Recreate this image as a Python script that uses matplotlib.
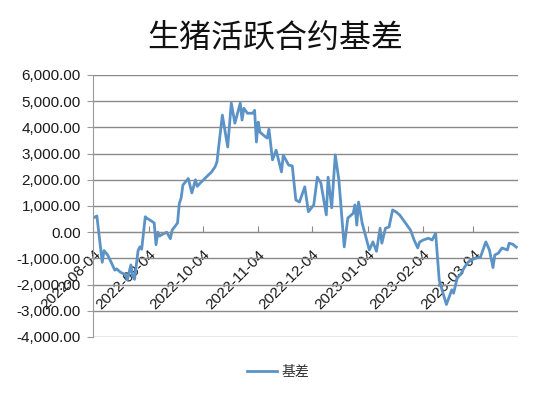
import matplotlib
matplotlib.use("Agg")
import matplotlib.pyplot as plt
import matplotlib.dates as mdates
import pandas as pd

title = "生猪活跃合约基差"
series_name = "基差"

dates = [
    "2022-08-04", "2022-08-06", "2022-08-09", "2022-08-10", "2022-08-12", "2022-08-14",
    "2022-08-16", "2022-08-17", "2022-08-19", "2022-08-22", "2022-08-23", "2022-08-25",
    "2022-08-26", "2022-08-27", "2022-08-29", "2022-08-30", "2022-08-31", "2022-09-02",
    "2022-09-03", "2022-09-06", "2022-09-07", "2022-09-08", "2022-09-09", "2022-09-10",
    "2022-09-11", "2022-09-14", "2022-09-16", "2022-09-17", "2022-09-20", "2022-09-21",
    "2022-09-22", "2022-09-23", "2022-09-26", "2022-09-28", "2022-09-30", "2022-10-01",
    "2022-10-03", "2022-10-06", "2022-10-09", "2022-10-11", "2022-10-12", "2022-10-15",
    "2022-10-18", "2022-10-20", "2022-10-22", "2022-10-25", "2022-10-26", "2022-10-27",
    "2022-10-29", "2022-11-01", "2022-11-02", "2022-11-03", "2022-11-04", "2022-11-05",
    "2022-11-07", "2022-11-09", "2022-11-10", "2022-11-12", "2022-11-14", "2022-11-17",
    "2022-11-18", "2022-11-21", "2022-11-23", "2022-11-25", "2022-11-27", "2022-11-30",
    "2022-12-02", "2022-12-05", "2022-12-07", "2022-12-09", "2022-12-12", "2022-12-13",
    "2022-12-15", "2022-12-17", "2022-12-19", "2022-12-22", "2022-12-24", "2022-12-27",
    "2022-12-28", "2022-12-29", "2022-12-30", "2023-01-01", "2023-01-05", "2023-01-07",
    "2023-01-09", "2023-01-11", "2023-01-12", "2023-01-14", "2023-01-16", "2023-01-18",
    "2023-01-20", "2023-01-22", "2023-01-28", "2023-01-30", "2023-02-01", "2023-02-02",
    "2023-02-04", "2023-02-07", "2023-02-09", "2023-02-11", "2023-02-13", "2023-02-15",
    "2023-02-17", "2023-02-20", "2023-02-21", "2023-02-23", "2023-02-25", "2023-02-27",
    "2023-03-01", "2023-03-03", "2023-03-05", "2023-03-08", "2023-03-11", "2023-03-13",
    "2023-03-15", "2023-03-16", "2023-03-18", "2023-03-20", "2023-03-23", "2023-03-24",
    "2023-03-26", "2023-03-28",
]

basis = [
    540, 620, -1150, -700, -870, -1150,
    -1450, -1400, -1520, -1630, -1820, -1250,
    -1700, -1800, -700, -560, -650, 590,
    530, 400, 350, -480, 0, -150,
    -100, 0, -250, 80, 350, 1100,
    1300, 1800, 2050, 1500, 2000, 1750,
    1900, 2100, 2300, 2500, 2680, 4470,
    3250, 4930, 4160, 4930, 4280, 4730,
    4540, 4540, 4650, 3440, 4200, 3820,
    3700, 3590, 3930, 2760, 3130, 2300,
    2940, 2560, 2530, 1230, 1150, 1730,
    780, 1040, 2100, 1870, 660, 2100,
    930, 2950, 2000, -560, 540, 720,
    1040, 270, 1150, 350, -680, -370,
    -730, 150, -420, 150, 200, 850,
    770, 650, 80, -300, -600, -380,
    -300, -230, -300, -40, -1830, -2300,
    -2760, -2200, -2330, -1760, -1600, -1350,
    -1150, -1060, -1000, -950, -370, -680,
    -1350, -870, -800, -600, -680, -420,
    -460, -570,
]

x_start = "2022-08-04"
x_end = "2023-03-29"
y_ticks = [-4000, -3000, -2000, -1000, 0, 1000, 2000, 3000, 4000, 5000, 6000]

plt.rcParams['font.family'] = ['Liberation Sans', 'Noto Sans CJK SC', 'DejaVu Sans']

fig = plt.figure(figsize=(5.5, 3.98), dpi=100)
ax = fig.add_axes([0.1696, 0.1533, 0.7724, 0.6583])

x = pd.to_datetime(dates)
line_color = "#5b93c7"
ax.plot(x, basis, color=line_color, lw=2.0, label=series_name, solid_joinstyle='round')

ax.set_xlim(pd.Timestamp(x_start), pd.Timestamp(x_end))
ax.set_ylim(-4000, 6000)
ax.set_yticks(y_ticks)
ax.set_yticklabels([f"{v:,.2f}" for v in y_ticks], fontsize=11, color="#1a1a1a")
ax.yaxis.grid(True, color="#8a8a8a", lw=1.0)
ax.set_axisbelow(True)

ax.xaxis.set_major_locator(mdates.MonthLocator(bymonthday=4))
ax.xaxis.set_major_formatter(mdates.DateFormatter('%Y-%m-%d'))
ax.spines['bottom'].set_position(('data', 0))
ax.spines['bottom'].set_color("#8a8a8a")
ax.spines['left'].set_color("#9a9a9a")
ax.spines['top'].set_visible(False)
ax.spines['right'].set_visible(False)
ax.tick_params(axis='x', direction='in', length=4, color="#8a8a8a", pad=11,
               labelsize=11, labelcolor="#1a1a1a", labelrotation=45)
ax.tick_params(axis='y', direction='out', length=4, color="#9a9a9a", pad=5)

fig.text(0.5, 0.905, title, ha='center', va='center', fontsize=23,
         family=['Noto Sans CJK SC'], color="#111111")

leg = fig.legend(loc='center', bbox_to_anchor=(0.505, 0.065), frameon=False,
                 prop={'family': ['Noto Sans CJK SC'], 'size': 10},
                 handlelength=2.2, handletextpad=0.3)
for t in leg.get_texts():
    t.set_color("#333333")

fig.canvas.draw()
for lbl in ax.get_xticklabels():
    lbl.set_ha('right')
    lbl.set_va('top')
    lbl.set_rotation_mode('anchor')

fig.savefig("out.png", dpi=100)
